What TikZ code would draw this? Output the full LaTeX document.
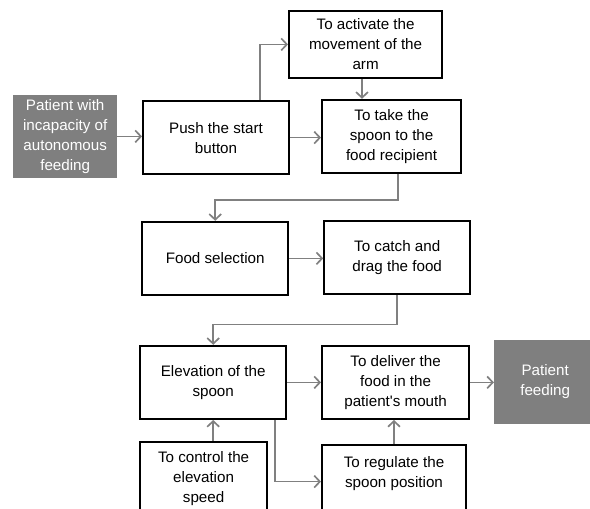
\documentclass[tikz,border=0pt]{standalone}
\usepackage{fontspec}
\setmainfont{Liberation Sans}
\usetikzlibrary{arrows.meta}
\definecolor{linegray}{RGB}{128,128,128}
\definecolor{boxgray}{RGB}{127,127,127}
\tikzset{
  bx/.style={draw, rectangle, line width=1.4pt, inner sep=0pt, align=center, minimum width=3.65cm, minimum height=1.83cm, font=\fontsize{10.8}{14.2}\selectfont},
  gb/.style={fill=boxgray, text=white, inner sep=0pt, align=center, font=\fontsize{10.8}{14.2}\selectfont},
  e/.style={-{Straight Barb[length=4pt,width=8.5pt]}, draw=linegray, line width=1.2pt}
}
\begin{document}
\begin{tikzpicture}
  \useasboundingbox (0,0) rectangle (14.75,12.7);
  \clip (0,0) rectangle (14.75,12.7);

  \node[gb, minimum width=2.6cm, minimum height=2.08cm] (patient) at (1.63, 9.29) {Patient with\\incapacity of\\autonomous\\feeding};
  \node[bx] (push) at (5.4, 9.26) {Push the start\\button};
  \node[bx, minimum width=3.83cm, minimum height=1.68cm] (activate) at (9.14, 11.59) {To activate the\\movement of the\\arm};
  \node[bx, minimum width=3.48cm] (take) at (9.79, 9.29) {To take the\\spoon to the\\food recipient};

  \node[bx] (food) at (5.38, 6.24) {Food selection};
  \node[bx] (catch) at (9.93, 6.26) {To catch and\\drag the food};

  \node[bx] (elev) at (5.33, 3.14) {Elevation of the\\spoon};
  \node[bx, minimum width=3.68cm] (deliver) at (9.89, 3.14) {To deliver the\\food in the\\patient\textquotesingle s mouth};
  \node[gb, minimum width=2.55cm, minimum height=2.1cm] (feeding) at (13.63, 3.15) {Patient\\feeding};

  \node[bx, minimum width=3.18cm] (control) at (5.09, 0.74) {To control the\\elevation\\speed};
  \node[bx, minimum width=3.6cm] (regulate) at (9.85, 0.66) {To regulate the\\spoon position\\~};

  \draw[e] (patient.east) -- (patient.east -| push.west);
  \draw[e] (push.east) -- (push.east -| take.west);
  \draw[e] ([xshift=1.1cm]push.north) |- (activate.west);
  \draw[e] ([xshift=-0.09cm]activate.south) -- ([xshift=-0.09cm]activate.south |- take.north);
  \draw[e] ([xshift=0.16cm]take.south) -- ++(0,-0.65) -| (food.north);
  \draw[e] (food.east) -- (food.east -| catch.west);
  \draw[e] (catch.south) -- ++(0,-0.73) -| (elev.north);
  \draw[e] (elev.east) -- (elev.east -| deliver.west);
  \draw[e] (deliver.east) -- (deliver.east -| feeding.west);
  \draw[e] (elev.south |- control.north) -- (elev.south);
  \draw[e] (regulate.north) -- (regulate.north |- deliver.south);
  \draw[e] ([xshift=1.55cm]elev.south) |- (regulate.west);
\end{tikzpicture}
\end{document}
